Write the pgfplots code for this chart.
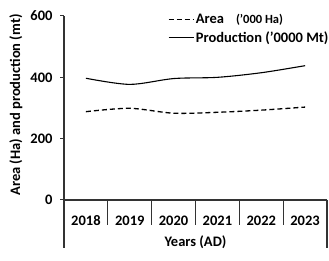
\documentclass[border=0pt]{standalone}
\usepackage{pgfplots}
\pgfplotsset{compat=1.18}
\usepackage{fontspec}
\setmainfont{Carlito}
\begin{document}
\begin{tikzpicture}
\useasboundingbox (-64pt,-61pt) rectangle (265pt,200pt);
\begin{axis}[
  at={(0pt,0pt)}, anchor=south west,
  scale only axis, width=263pt, height=184pt,
  xmin=-0.5, xmax=5.5, ymin=0, ymax=600,
  axis x line*=bottom, axis y line*=left,
  axis line style={black!80, line width=1.1pt},
  clip=false,
  xtick={0,1,2,3,4,5},
  xticklabels={2018,2019,2020,2021,2022,2023},
  major x tick style={draw=none},
  xticklabel style={anchor=center, yshift=-17pt, font=\fontsize{14.5}{15}\selectfont\bfseries},
  ytick={0,200,400,600},
  tick align=outside, major tick length=4pt,
  major y tick style={black!80, line width=1pt},
  yticklabel style={xshift=-4pt, font=\fontsize{14.5}{15}\selectfont\bfseries},
  /pgf/number format/assume math mode=true,
  xlabel={Years (AD)},
  xlabel style={at={(axis description cs:0.5,0)}, anchor=center, yshift=-42pt, font=\fontsize{14.5}{16}\selectfont\bfseries},
  ylabel={Area (Ha) and production (mt)},
  ylabel style={at={(axis description cs:-0.183,0.516)}, anchor=center, font=\fontsize{14.5}{16}\selectfont\bfseries},
  legend style={at={(0.395,1.02)}, anchor=north west, draw=none, fill=none,
    font=\fontsize{14.5}{15}\selectfont\bfseries, row sep=3.5pt, inner sep=0pt,
    nodes={inner sep=1.5pt}},
  legend cell align=left,
  legend image code/.code={\draw[#1] (0pt,0pt) -- (25pt,0pt);},
]
\addplot[black, line width=1.3pt, dash pattern=on 5pt off 3pt, smooth, tension=0.5]
  coordinates {(0,288) (1,299) (2,283) (3,286) (4,293) (5,303)};
\addlegendentry{Area \hspace{0.6em}{\fontsize{12.5}{14}\selectfont('000 Ha)}}
\addplot[black, line width=1.1pt, smooth, tension=0.5]
  coordinates {(0,397) (1,377) (2,396) (3,400) (4,415) (5,438)};
\addlegendentry{Production ('0000 Mt)}
\foreach \xx in {0.5,1.5,2.5,3.5,4.5} {
  \edef\tmp{\noexpand\draw[black!80, line width=1.1pt] (axis cs:\xx,0) -- ++(0pt,-25pt);}
  \tmp
}
\draw[black!80, line width=1.1pt] (axis cs:-0.5,0) -- ++(0pt,-48pt);
\draw[black!80, line width=1.1pt] (axis cs:5.5,0) -- ++(0pt,-48pt);
\end{axis}
\end{tikzpicture}
\end{document}
